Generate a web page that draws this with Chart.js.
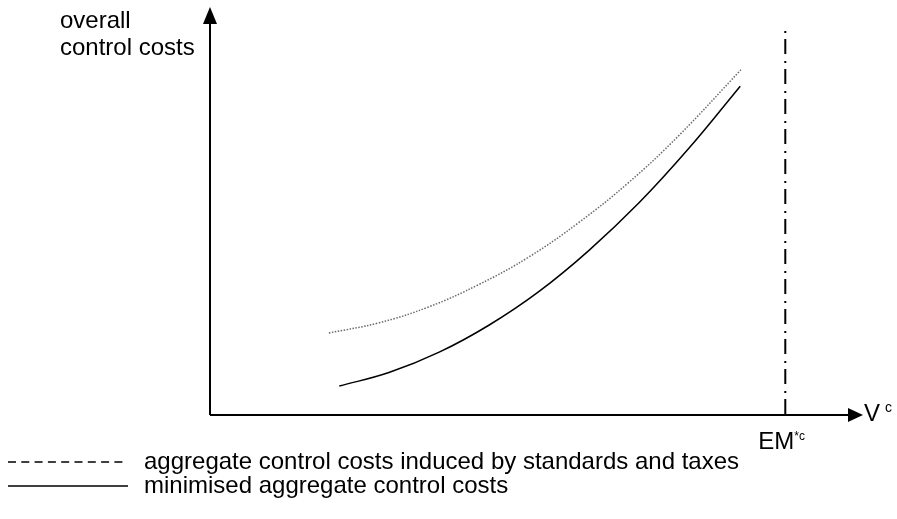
<!DOCTYPE html>
<html>
<head>
<meta charset="utf-8">
<script src="https://cdn.jsdelivr.net/npm/chart.js@4/dist/chart.umd.min.js"></script>
<style>
  html, body { margin: 0; padding: 0; background: #fff; }
  canvas { display: block; }
</style>
</head>
<body>
<canvas id="c" width="897" height="519"></canvas>
<script>
// curves (x, y in 0..100 chart units)
const standardsX = [18.2, 25.9, 33.5, 41.2, 48.9, 56.5, 64.2, 71.8, 81.3];
const standardsY = [20.1, 22.6, 26.5, 32.0, 38.8, 47.2, 57.1, 68.5, 84.6];
const minimisedX = [19.8, 27.4, 35.1, 42.7, 50.4, 58.0, 65.7, 73.3, 81.2];
const minimisedY = [7.1, 10.4, 15.4, 22.0, 30.3, 40.3, 52.0, 65.3, 80.6];
const emX = 88.1;
const emLineY = [94.1, 0];

const legendLabels = ['aggregate control costs induced by standards and taxes', 'minimised aggregate control costs'];
const yTitle = ['overall', 'control costs'];

const pts = (xs, ys) => xs.map((x, i) => ({ x: x, y: ys[i] }));
const FONT = '"Liberation Sans", Arial, sans-serif';

const overlay = {
    id: 'overlay',
    afterDraw(chart) {
        const ctx = chart.ctx;
        const xs = chart.scales.x, ys = chart.scales.y;
        const x0 = xs.getPixelForValue(0), x1 = xs.getPixelForValue(100);
        const y0 = ys.getPixelForValue(0), y1 = ys.getPixelForValue(100);
        ctx.save();
        ctx.strokeStyle = '#000'; ctx.fillStyle = '#000'; ctx.lineWidth = 2;
        // axes
        ctx.beginPath();
        ctx.moveTo(x0, y0); ctx.lineTo(x1 - 12, y0);
        ctx.moveTo(x0, y0); ctx.lineTo(x0, y1 + 12);
        ctx.stroke();
        // arrow heads
        ctx.beginPath();
        ctx.moveTo(x1, y0); ctx.lineTo(x1 - 15, y0 - 7); ctx.lineTo(x1 - 15, y0 + 7); ctx.closePath(); ctx.fill();
        ctx.beginPath();
        ctx.moveTo(x0, y1); ctx.lineTo(x0 - 7, y1 + 17); ctx.lineTo(x0 + 7, y1 + 17); ctx.closePath(); ctx.fill();

        // texts
        ctx.textBaseline = 'alphabetic'; ctx.textAlign = 'left';
        ctx.font = '24px ' + FONT;
        ctx.fillText(yTitle[0], 60, 28);
        ctx.fillText(yTitle[1], 60, 55);
        ctx.fillText('V', x1 + 1, y0 + 6);
        ctx.font = '14px ' + FONT;
        ctx.fillText('c', x1 + 22, y0 - 3);
        const ex = xs.getPixelForValue(emX);
        ctx.font = '24px ' + FONT;
        ctx.fillText('EM', ex - 27, 449);
        ctx.font = '12px ' + FONT;
        ctx.fillText('*c', ex + 9, 440);

        // legend
        ctx.lineWidth = 1.5;
        ctx.setLineDash([8, 5.3]);
        ctx.beginPath(); ctx.moveTo(8, 462); ctx.lineTo(126, 462); ctx.stroke();
        ctx.setLineDash([]);
        ctx.beginPath(); ctx.moveTo(8, 486); ctx.lineTo(128, 486); ctx.stroke();
        ctx.font = '24px ' + FONT;
        ctx.fillText(legendLabels[0], 144, 469);
        ctx.fillText(legendLabels[1], 144, 493);
        ctx.restore();
    }
};

new Chart(document.getElementById('c'), {
    type: 'scatter',
    data: {
        datasets: [
            { label: legendLabels[0], data: pts(standardsX, standardsY), showLine: true, borderColor: '#6a6a6a', borderWidth: 1.5, borderDash: [1.5, 1.5], pointRadius: 0, tension: 0.4 },
            { label: legendLabels[1], data: pts(minimisedX, minimisedY), showLine: true, borderColor: '#000', borderWidth: 1.5, pointRadius: 0, tension: 0.4 },
            { label: 'EM*c', data: emLineY.map(y => ({ x: emX, y: y })), showLine: true, borderColor: '#000', borderWidth: 2, borderDash: [2, 6, 15, 7], pointRadius: 0 }
        ]
    },
    options: {
        responsive: false,
        animation: false,
        layout: { padding: { left: 210, right: 34, top: 7, bottom: 104 } },
        scales: {
            x: { type: 'linear', min: 0, max: 100, display: false },
            y: { type: 'linear', min: 0, max: 100, display: false }
        },
        plugins: { legend: { display: false }, tooltip: { enabled: false } }
    },
    plugins: [overlay]
});
</script>
</body>
</html>
